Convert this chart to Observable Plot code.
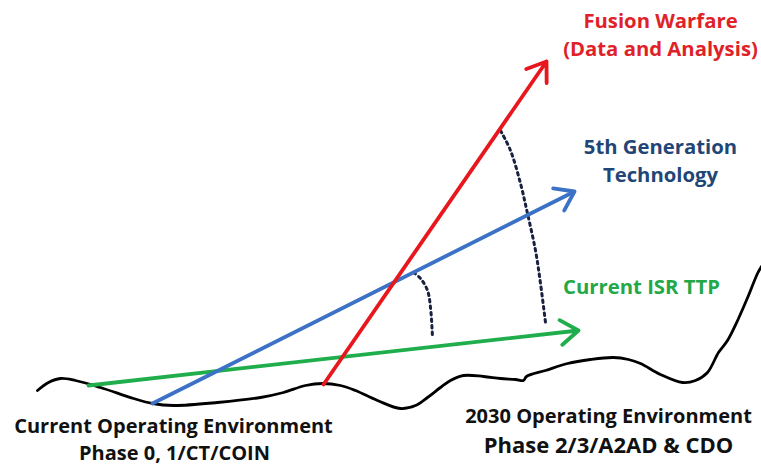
<!DOCTYPE html>
<html>
<head>
<meta charset="utf-8">
<script src="https://cdn.jsdelivr.net/npm/d3@7"></script>
<script src="https://cdn.jsdelivr.net/npm/@observablehq/plot@0.6"></script>
<style>
  html, body { margin: 0; padding: 0; background: #ffffff; }
  #chart svg { display: block; }
</style>
</head>
<body>
<div id="chart"></div>
<script>
// Terrain (operating environment) profile
const terrainX = [37, 48, 60, 75, 100, 133, 152, 173, 217, 260, 283, 305, 322, 340, 355, 377, 400, 415, 427, 440, 450, 463, 483, 500, 515, 523, 526, 545, 567, 590, 613, 628, 640, 660, 682, 695, 707, 718, 727, 738, 748, 757, 761];
const terrainY = [390, 382, 378, 380, 387, 398, 403, 405, 402, 397, 392, 385, 383, 385, 390, 400, 408, 405, 397, 387, 380, 375, 376, 378, 379, 380, 376, 370, 363, 359, 357, 359, 363, 374, 382, 380, 372, 352, 340, 318, 295, 273, 266];

// Capability arrows
const arrowNames = ["Current ISR TTP", "5th Generation Technology", "Fusion Warfare"];
const arrowStartX = [88, 152, 323];
const arrowStartY = [385, 403, 384];
const arrowEndX = [578, 574, 546];
const arrowEndY = [330, 191, 61];
const arrowColors = ["#1fae4b", "#3b72c5", "#e8171d"];

// Dotted gap arcs
const smallArcX = [413, 420, 427, 430, 432];
const smallArcY = [272, 278, 290, 307, 337];
const largeArcX = [500, 510, 520, 527, 535, 540, 545];
const largeArcY = [130, 150, 183, 213, 250, 283, 322];

// Labels (one entry per line; baseline given)
const labelText = ["Fusion Warfare", "(Data and Analysis)", "5th Generation", "Technology", "Current ISR TTP",
  "Current Operating Environment", "Phase 0, 1/CT/COIN", "2030 Operating Environment", "Phase 2/3/A2AD & CDO"];
const labelX = [660, 660, 660, 660, 641, 173, 174, 608, 608];
const labelBaseline = [27.5, 55.5, 153, 181, 293, 432, 459.5, 422, 452];
const labelColor = ["#e02228", "#e02228", "#1f4677", "#1f4677", "#22a847", "#111111", "#111111", "#111111", "#111111"];
const labelSize = [20.3, 20.3, 20.3, 20.3, 20.3, 20, 20, 20, 22];

const terrain = terrainX.map((x, i) => ({x, y: terrainY[i]}));
const arrows = arrowNames.map((name, i) => ({name, x1: arrowStartX[i], y1: arrowStartY[i], x2: arrowEndX[i], y2: arrowEndY[i], color: arrowColors[i]}));
const smallArc = smallArcX.map((x, i) => ({x, y: smallArcY[i]}));
const largeArc = largeArcX.map((x, i) => ({x, y: largeArcY[i]}));
// lineAnchor "top" puts the baseline 0.71em below y
const labels = labelText.map((t, i) => ({t, x: labelX[i], y: labelBaseline[i] - 0.71 * labelSize[i], c: labelColor[i], s: labelSize[i]}));

const chart = Plot.plot({
  width: 761,
  height: 465,
  margin: 0,
  x: {domain: [0, 761], axis: null},
  y: {domain: [0, 465], reverse: true, axis: null},
  style: {background: "#ffffff", fontFamily: "'Open Sans', sans-serif"},
  marks: [
    Plot.line(terrain, {x: "x", y: "y", curve: "catmull-rom", stroke: "#000000", strokeWidth: 2.8}),
    Plot.line(smallArc, {x: "x", y: "y", curve: "catmull-rom", stroke: "#1a2040", strokeWidth: 3, strokeDasharray: "2.5,4"}),
    Plot.line(largeArc, {x: "x", y: "y", curve: "catmull-rom", stroke: "#1a2040", strokeWidth: 3, strokeDasharray: "2.5,4"}),
    Plot.arrow(arrows, {x1: "x1", y1: "y1", x2: "x2", y2: "y2", stroke: d => d.color, strokeWidth: 3.8, headAngle: 70, headLength: 8.5, strokeLinecap: "round", strokeLinejoin: "round"}),
    ...labels.map(d => Plot.text([d], {x: "x", y: "y", text: "t", fill: "c", fontSize: d.s, fontWeight: "bold", textAnchor: "middle", lineAnchor: "top"}))
  ]
});
document.getElementById("chart").appendChild(chart);
</script>
</body>
</html>
